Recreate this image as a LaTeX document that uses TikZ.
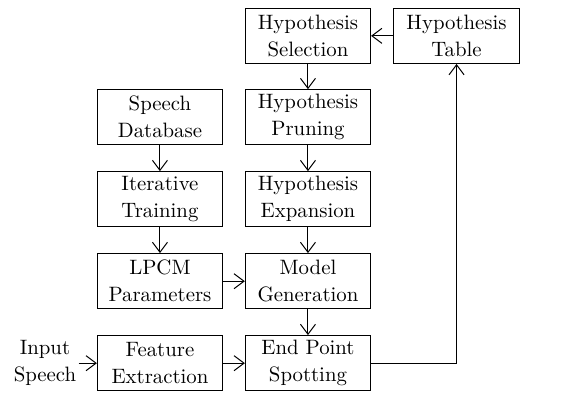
\documentclass[tikz,border=0pt]{standalone}
\usetikzlibrary{arrows.meta}

\begin{document}
\begin{tikzpicture}[>={Straight Barb[length=5pt,width=7.5pt]},line width=0.5pt,
    blk/.style={draw,align=center,minimum width=2.2cm,minimum height=0.97cm,
        inner sep=0pt,font=\fontsize{10.4}{13.5}\selectfont},
    lbl/.style={align=center,inner sep=1pt,font=\fontsize{10.4}{13.5}\selectfont}]
    % Frame of the picture
    \useasboundingbox (0,0) rectangle (9.89,6.89);

    % Blocks
    \node[blk] (sel)   at (5.41,6.26) {Hypothesis\\Selection};
    \node[blk] (tab)   at (8.02,6.26) {Hypothesis\\Table};
    \node[blk] (sdb)   at (2.81,4.83) {Speech\\Database};
    \node[blk] (prune) at (5.41,4.83) {Hypothesis\\Pruning};
    \node[blk] (itr)   at (2.81,3.39) {Iterative\\Training};
    \node[blk] (expn)  at (5.41,3.39) {Hypothesis\\Expansion};
    \node[blk] (lpcm)  at (2.81,1.95) {LPCM\\Parameters};
    \node[blk] (mgen)  at (5.41,1.95) {Model\\Generation};
    \node[blk] (feat)  at (2.81,0.51) {Feature\\Extraction};
    \node[blk] (eps)   at (5.41,0.51) {End Point\\Spotting};

    % Input
    \node[lbl] (inp) at (0.79,0.51) {Input\\Speech};

    % Connections
    \draw[->] (tab) -- (sel);
    \draw[->] (sel) -- (prune);
    \draw[->] (prune) -- (expn);
    \draw[->] (expn) -- (mgen);
    \draw[->] (mgen) -- (eps);
    \draw[->] (sdb) -- (itr);
    \draw[->] (itr) -- (lpcm);
    \draw[->] (lpcm) -- (mgen);
    \draw[->] (inp) -- (feat);
    \draw[->] (feat) -- (eps);
    \draw[->] (eps.east) -| (tab.south);
\end{tikzpicture}
\end{document}
